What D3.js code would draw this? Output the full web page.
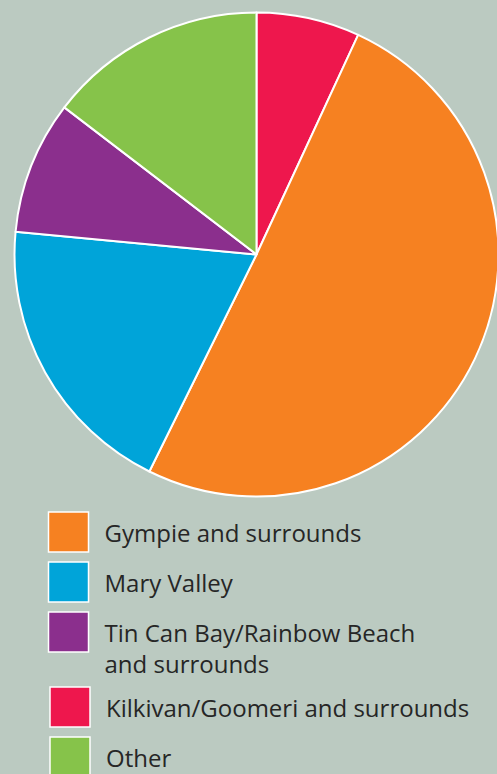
<!DOCTYPE html>
<html>
<head>
<meta charset="utf-8">
<script src="https://cdn.jsdelivr.net/npm/d3@7"></script>
<style>
  html, body { margin: 0; padding: 0; background: #bbcac1; }
  svg { display: block; }
  .legend text { font-family: 'Open Sans', sans-serif; font-size: 24px; fill: #262626; }
</style>
</head>
<body>
<div id="main"></div>
<script>
// slices clockwise from 12 o'clock
const regions = ['Kilkivan/Goomeri and surrounds', 'Gympie and surrounds', 'Mary Valley', 'Tin Can Bay/Rainbow Beach and surrounds', 'Other']
const shares = [6.9, 50.4, 19.2, 8.9, 14.6]
const colours = ['#ee174d', '#f68121', '#00a4d9', '#8b2f8d', '#86c34a']

// legend order and line breaks
const legendOrder = ['Gympie and surrounds', 'Mary Valley', 'Tin Can Bay/Rainbow Beach and surrounds', 'Kilkivan/Goomeri and surrounds', 'Other']
const legendLines = [['Gympie and surrounds'], ['Mary Valley'], ['Tin Can Bay/Rainbow Beach', 'and surrounds'], ['Kilkivan/Goomeri and surrounds'], ['Other']]

const width = 497
const height = 774

const svg = d3.select('#main').append('svg')
  .attr('width', width)
  .attr('height', height)

const data = regions.map((r, i) => ({ region: r, value: shares[i], colour: colours[i] }))

const pie = d3.pie().sort(null).value(d => d.value)
const arc = d3.arc().innerRadius(0).outerRadius(242)

const gPie = svg.append('g').attr('transform', 'translate(256.5, 254.5)')
gPie.selectAll('path')
  .data(pie(data))
  .enter()
  .append('path')
  .attr('d', arc)
  .attr('fill', d => d.data.colour)
  .attr('stroke', 'white')
  .attr('stroke-width', 2)
  .attr('stroke-linejoin', 'round')

// legend: each row is 50px, plus 25px for every extra text line
const rowTops = []
legendLines.reduce((y, lines) => { rowTops.push(y); return y + 50 + 25 * (lines.length - 1) }, 512)
const rowX = d3.scaleOrdinal().domain(legendOrder).range([48.5, 48.5, 48.5, 50, 50])
const colourOf = r => colours[regions.indexOf(r)]

const gLegend = svg.append('g').attr('class', 'legend')
const rows = gLegend.selectAll('g')
  .data(legendOrder)
  .enter()
  .append('g')
  .attr('transform', (d, i) => `translate(${rowX(d)}, ${rowTops[i]})`)

rows.append('rect')
  .attr('width', 40)
  .attr('height', 40)
  .attr('fill', d => colourOf(d))
  .attr('stroke', 'white')
  .attr('stroke-width', 1.5)

rows.each(function (d, i) {
  const t = d3.select(this).append('text')
    .attr('x', 56)
    .attr('y', 30)
  legendLines[i].forEach((line, j) => {
    t.append('tspan').attr('x', 56).attr('dy', j === 0 ? 0 : 31).text(line)
  })
})
</script>
</body>
</html>
